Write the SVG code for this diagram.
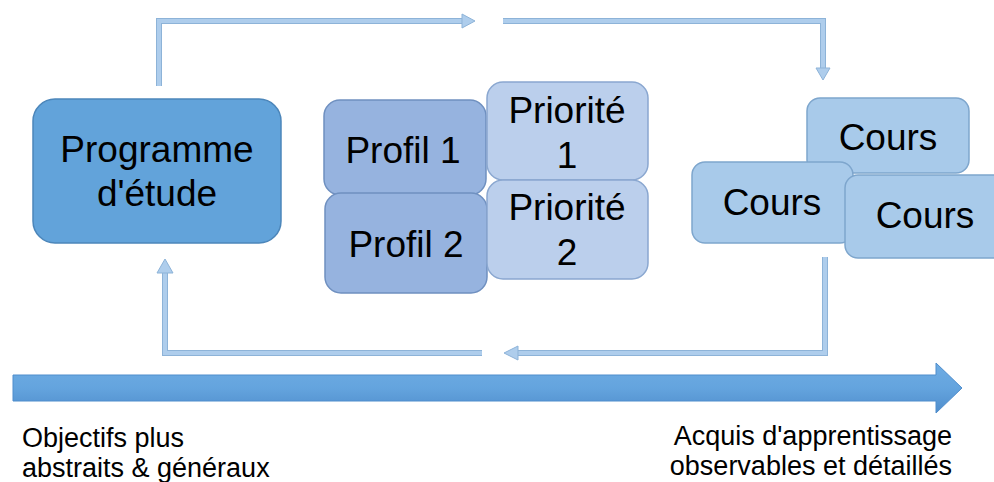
<svg xmlns="http://www.w3.org/2000/svg" width="994" height="482" viewBox="0 0 994 482">
<defs>
<linearGradient id="barGrad" x1="0" y1="0" x2="0" y2="1">
<stop offset="0" stop-color="#6eacE3"/>
<stop offset="0.5" stop-color="#64a4de"/>
<stop offset="1" stop-color="#4f8dcc"/>
</linearGradient>
<style>
text{font-family:"Liberation Sans",Arial,sans-serif;fill:#000}
.big{font-size:37px;text-anchor:middle}
.cap{font-size:27px}
.line{fill:none;stroke-linejoin:miter}
.lo{stroke:#8db3d8;stroke-width:6}
.li{stroke:#aecdec;stroke-width:4}
.ah{fill:#aecdec;stroke:#8db3d8;stroke-width:1}
.prog{fill:#62a3da;stroke:#4c86ba;stroke-width:1.5}
.prof{fill:#96b3df;stroke:#6f90c0;stroke-width:1.5}
.prio{fill:#bbcfec;stroke:#8aa7d0;stroke-width:1.5}
.cours{fill:#a8caea;stroke:#7ea6cd;stroke-width:1.5}
</style>
</defs>
<rect width="994" height="482" fill="#fff"/>
<g id="connectors">
<path class="line lo" d="M159 86 V21 H463"/>
<path class="line li" d="M159 86 V21 H463"/>
<polygon class="ah" points="462,14 475,21 462,28"/>
<path class="line lo" d="M503 21 H823 V69"/>
<path class="line li" d="M503 21 H823 V69"/>
<polygon class="ah" points="816,68 823,80 830,68"/>
<path class="line lo" d="M825 257 V353 H517"/>
<path class="line li" d="M825 257 V353 H517"/>
<polygon class="ah" points="518,346 504,353 518,360"/>
<path class="line lo" d="M482 353 H165 V272"/>
<path class="line li" d="M482 353 H165 V272"/>
<polygon class="ah" points="157,273 165,259 173,273"/>
</g>
<g id="axis">
<polygon points="13,375 936,375 936,363 962,388 936,413 936,401 13,401" fill="url(#barGrad)" stroke="#4f8dcc" stroke-width="1"/>
</g>
<g id="programme">
<rect class="prog" x="33" y="99" width="248" height="144" rx="22"/>
<text class="big" x="157" y="162">Programme</text>
<text class="big" x="157" y="206">d'étude</text>
</g>
<g id="profil1">
<rect class="prof" x="324" y="100" width="162" height="95" rx="16"/>
<text class="big" x="403" y="163">Profil 1</text>
</g>
<g id="profil2">
<rect class="prof" x="325" y="193" width="162" height="100" rx="16"/>
<text class="big" x="406" y="257">Profil 2</text>
</g>
<g id="priorite1">
<rect class="prio" x="487" y="82" width="161" height="98" rx="16"/>
<text class="big" x="567" y="123">Priorité</text>
<text class="big" x="567" y="168">1</text>
</g>
<g id="priorite2">
<rect class="prio" x="487" y="180" width="161" height="99" rx="16"/>
<text class="big" x="567" y="220">Priorité</text>
<text class="big" x="567" y="265">2</text>
</g>
<g id="cours1">
<rect class="cours" x="807" y="98" width="162" height="75" rx="13"/>
<text class="big" x="888" y="150">Cours</text>
</g>
<g id="cours2">
<rect class="cours" x="692" y="162" width="161" height="81" rx="13"/>
<text class="big" x="772" y="215">Cours</text>
</g>
<g id="cours3">
<rect class="cours" x="845" y="175" width="162" height="83" rx="13"/>
<text class="big" x="925" y="228">Cours</text>
</g>
<g id="labels">
<text class="cap" x="22" y="447">Objectifs plus</text>
<text class="cap" x="22" y="477">abstraits &amp; généraux</text>
<text class="cap" x="952" y="445" text-anchor="end">Acquis d'apprentissage</text>
<text class="cap" x="952" y="475" text-anchor="end">observables et détaillés</text>
</g>
</svg>
